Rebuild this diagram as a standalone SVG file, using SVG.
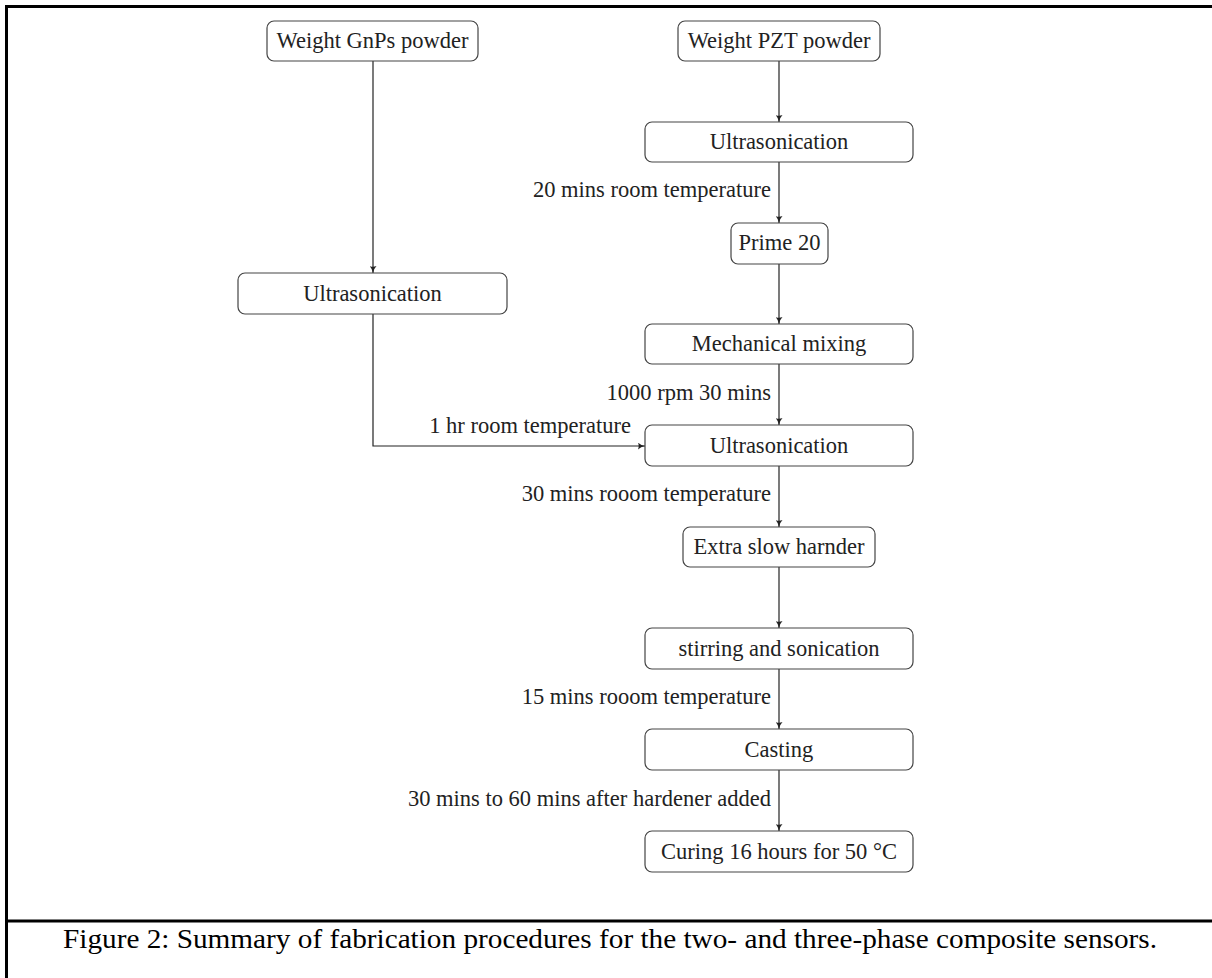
<svg xmlns="http://www.w3.org/2000/svg" width="1212" height="978" viewBox="0 0 1212 978">
<defs>
<style>
.box{fill:#fff;stroke:#444;stroke-width:1.2}
.t{font-family:"Liberation Serif","Times New Roman",serif;font-size:22.5px;fill:#222;text-anchor:middle}
.lbl{font-family:"Liberation Serif","Times New Roman",serif;font-size:22.5px;fill:#222;text-anchor:end}
.e{fill:none;stroke:#222;stroke-width:1.2}
.frame{fill:none;stroke:#000;stroke-width:3}
.cap{font-family:"Liberation Serif","Times New Roman",serif;font-size:27px;fill:#000}
</style>
<marker id="arr" viewBox="0 0 10 10" refX="10" refY="5" markerWidth="7" markerHeight="7" markerUnits="userSpaceOnUse" orient="auto">
<path d="M0,0 Q4,4 10,5 Q4,6 0,10 Q2,5 0,0Z" fill="#222"/>
</marker>
</defs>
<rect width="1212" height="978" fill="#fff"/>
<g id="frame">
<path class="frame" d="M1212,6.5 H6.5 V978"/>
<path class="frame" d="M6.5,921 H1212"/>
</g>
<g id="connectors">
<path class="e" d="M373,61 V273" marker-end="url(#arr)"/>
<path class="e" d="M779,61 V122" marker-end="url(#arr)"/>
<path class="e" d="M779,162 V223" marker-end="url(#arr)"/>
<path class="e" d="M779,264 V324" marker-end="url(#arr)"/>
<path class="e" d="M779,364 V425" marker-end="url(#arr)"/>
<path class="e" d="M373,314 V446 H645" marker-end="url(#arr)"/>
<path class="e" d="M779,466 V527" marker-end="url(#arr)"/>
<path class="e" d="M779,567 V628" marker-end="url(#arr)"/>
<path class="e" d="M779,669 V729" marker-end="url(#arr)"/>
<path class="e" d="M779,770 V831" marker-end="url(#arr)"/>
<text class="lbl" x="771" y="197">20 mins room temperature</text>
<text class="lbl" x="771" y="400">1000 rpm 30 mins</text>
<text class="lbl" x="631" y="433">1 hr room temperature</text>
<text class="lbl" x="771" y="501">30 mins rooom temperature</text>
<text class="lbl" x="771" y="704">15 mins rooom temperature</text>
<text class="lbl" x="771" y="806">30 mins to 60 mins after hardener added</text>
</g>
<g id="n_gnps"><rect class="box" x="267" y="21" width="211" height="40" rx="7"/><text class="t" x="372.5" y="48">Weight GnPs powder</text></g>
<g id="n_pzt"><rect class="box" x="678" y="21" width="202" height="40" rx="7"/><text class="t" x="779" y="48">Weight PZT powder</text></g>
<g id="n_ultra1"><rect class="box" x="645" y="122" width="268" height="40" rx="7"/><text class="t" x="779" y="149">Ultrasonication</text></g>
<g id="n_prime"><rect class="box" x="731" y="223" width="97" height="41" rx="7"/><text class="t" x="779.5" y="250">Prime 20</text></g>
<g id="n_ultraL"><rect class="box" x="238" y="273" width="269" height="41" rx="7"/><text class="t" x="372.5" y="301">Ultrasonication</text></g>
<g id="n_mech"><rect class="box" x="645" y="324" width="268" height="40" rx="7"/><text class="t" x="779" y="351">Mechanical mixing</text></g>
<g id="n_ultra2"><rect class="box" x="645" y="425" width="268" height="41" rx="7"/><text class="t" x="779" y="453">Ultrasonication</text></g>
<g id="n_extra"><rect class="box" x="683" y="527" width="192" height="40" rx="7"/><text class="t" x="779" y="554">Extra slow harnder</text></g>
<g id="n_stir"><rect class="box" x="645" y="628" width="268" height="41" rx="7"/><text class="t" x="779" y="656">stirring and sonication</text></g>
<g id="n_cast"><rect class="box" x="645" y="729" width="268" height="41" rx="7"/><text class="t" x="779" y="757">Casting</text></g>
<g id="n_cure"><rect class="box" x="645" y="831" width="268" height="41" rx="7"/><text class="t" x="779" y="859">Curing 16 hours for 50 °C</text></g>
<text class="cap" x="63" y="948" textLength="1094" lengthAdjust="spacingAndGlyphs">Figure 2: Summary of fabrication procedures for the two- and three-phase composite sensors.</text>
</svg>
